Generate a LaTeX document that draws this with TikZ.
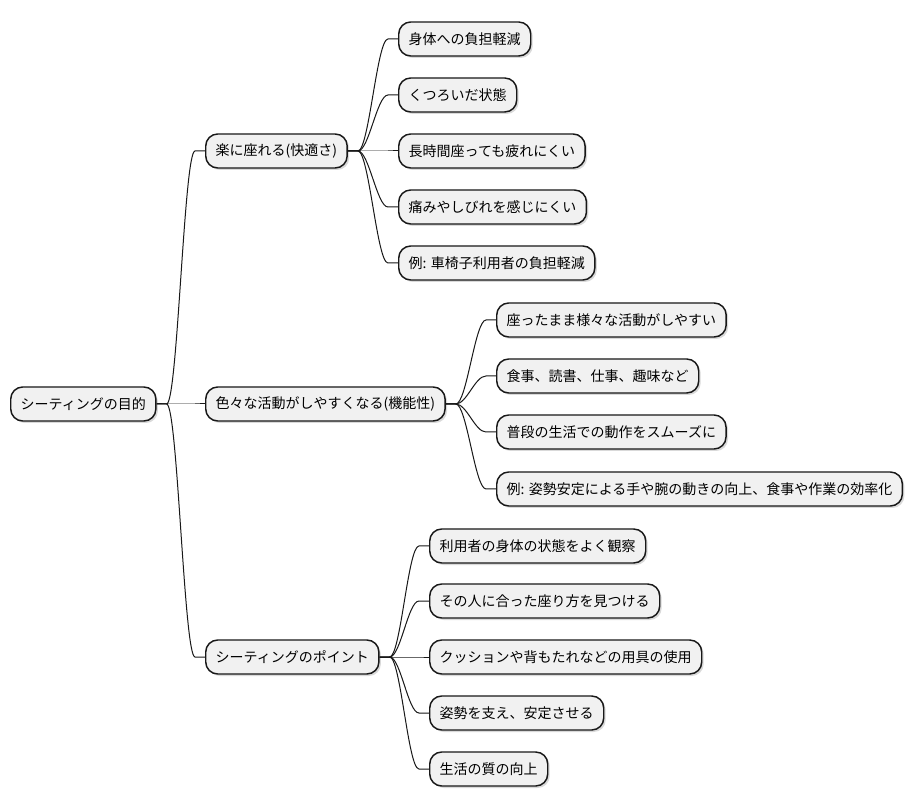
\documentclass[tikz,border=0pt]{standalone}
\usepackage{fontspec}
\setmainfont{Noto Sans CJK JP}
\usetikzlibrary{shadows}
\definecolor{lineC}{HTML}{181818}
\definecolor{fillC}{HTML}{F1F1F1}
\begin{document}
\begin{tikzpicture}[x=0.75pt,y=-0.75pt,
  mmnode/.style={draw=lineC, fill=fillC, rounded corners=9pt, line width=1.1pt,
    inner xsep=7.5pt, inner ysep=0pt, minimum height=25.5pt, anchor=west,
    font=\fontsize{10.5pt}{12pt}\selectfont,
    drop shadow={shadow xshift=1.5pt, shadow yshift=-1.5pt, opacity=0.15, fill=black}},
  link/.style={draw=lineC, line width=0.75pt}]
\useasboundingbox (0,0) rectangle (915,809);
\fill[white] (0,0) rectangle (915,809);
% root
\node[mmnode] (root) at (10,404) {シーティングの目的};
% level 1
\node[mmnode] (a) at (205,151) {楽に座れる(快適さ)};
\node[mmnode] (b) at (205,404) {色々な活動がしやすくなる(機能性)};
\node[mmnode] (c) at (205,657) {シーティングのポイント};
% group a
\node[mmnode] (a1) at (398,39) {身体への負担軽減};
\node[mmnode] (a2) at (398,95) {くつろいだ状態};
\node[mmnode] (a3) at (398,151) {長時間座っても疲れにくい};
\node[mmnode] (a4) at (398,207) {痛みやしびれを感じにくい};
\node[mmnode] (a5) at (398,263) {例: 車椅子利用者の負担軽減};
% group b
\node[mmnode] (b1) at (496,320) {座ったまま様々な活動がしやすい};
\node[mmnode] (b2) at (496,376) {食事、読書、仕事、趣味など};
\node[mmnode] (b3) at (496,432) {普段の生活での動作をスムーズに};
\node[mmnode] (b4) at (496,489) {例: 姿勢安定による手や腕の動きの向上、食事や作業の効率化};
% group c
\node[mmnode] (c1) at (429,546) {利用者の身体の状態をよく観察};
\node[mmnode] (c2) at (429,601) {その人に合った座り方を見つける};
\node[mmnode] (c3) at (429,657) {クッションや背もたれなどの用具の使用};
\node[mmnode] (c4) at (429,713) {姿勢を支え、安定させる};
\node[mmnode] (c5) at (429,769) {生活の質の向上};
% links
\foreach \p/\c in {root/a,root/b,root/c,a/a1,a/a2,a/a3,a/a4,a/a5,b/b1,b/b2,b/b3,b/b4,c/c1,c/c2,c/c3,c/c4,c/c5}{
  \draw[link] (\p.east) -- ++(10,0) .. controls +(11,0) and +(-11,0) .. ([xshift=-7.5pt]\c.west) -- (\c.west);
}
\end{tikzpicture}
\end{document}
